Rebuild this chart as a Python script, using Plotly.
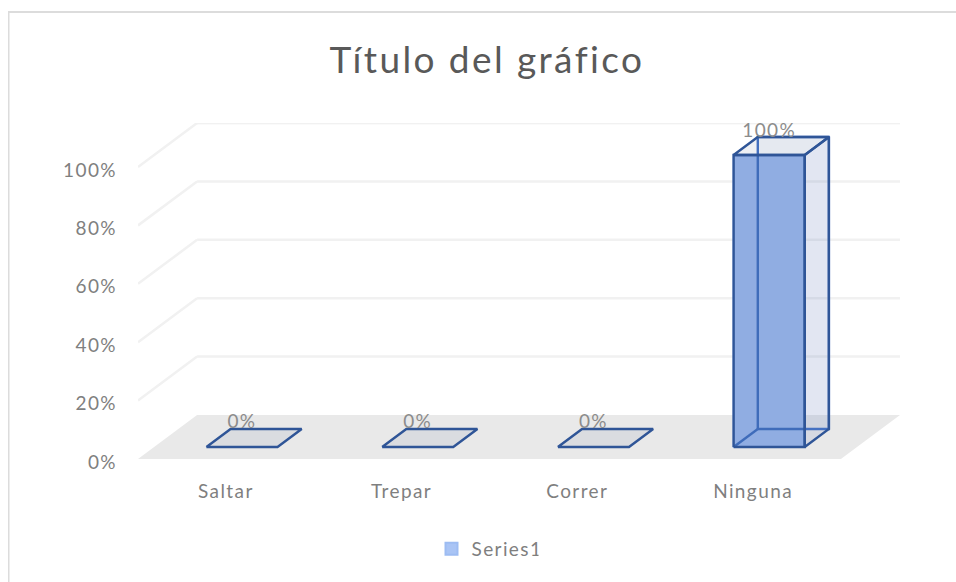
import plotly.graph_objects as go

categories = ["Saltar", "Trepar", "Correr", "Ninguna"]
values = [0, 0, 0, 100]
series_name = "Series1"
y_ticks = [0, 20, 40, 60, 80, 100]
title = "Título del gráfico"

FONT = "Lato, 'Open Sans', sans-serif"
TXT = "#7f7f7f"
EDGE = "#2f5597"
HIDDEN = "#4472c4"
DX = 59 / 175.5      # oblique shift in category units for full floor depth
DY = 44 / 2.92       # oblique shift in value units for full floor depth
NEAR, FAR = 12 / 44, 30 / 44
W = 71 / 175.5
xs = list(range(len(categories)))
CSS = """
var s=document.createElement('style');
s.textContent='html{overflow:hidden}body{overflow:visible;width:964px}.gtitle{letter-spacing:2.4px}.xtick text,.ytick text,.legendtext,.textpoint text{letter-spacing:1.4px}';
document.head.appendChild(s);
"""


def proj(x, y, d):
    return x + d * DX, y + d * DY


def poly(pts, fill, line=None, width=2.4, closed=True, front=True):
    p = [proj(*q) for q in pts]
    if closed:
        p.append(p[0])
    return go.Scatter(
        x=[a for a, _ in p], y=[b for _, b in p], mode="lines",
        fill="toself" if fill else None, fillcolor=fill,
        line=dict(color=line or "rgba(0,0,0,0)", width=width if line else 0),
        showlegend=False, hoverinfo="skip",
        xaxis="x2" if front else "x", yaxis="y2" if front else "y",
    )


fig = go.Figure()
L, R = -0.5, len(categories) - 0.5

# floor and walls, behind everything
fig.add_trace(poly([(L, 0, 0), (R, 0, 0), (R, 0, 1), (L, 0, 1)], "#e9e9e9", front=False))
for t in y_ticks[1:]:
    fig.add_trace(poly([(L, t, 0), (L, t, 1)], None, "#f1f1f1", 2.5, closed=False, front=False))
    fig.add_trace(poly([(L, t, 1), (R, t, 1)], None, "#f1f1f1", 2.5, closed=False, front=False))
fig.add_trace(poly([(L, 100, 1), (R, 100, 1)], None, "#f1f1f1", 2.5, closed=False, front=False))

for i, v in zip(xs, values):
    if v > 0:
        a, b = i - W / 2, i + W / 2
        fig.add_trace(poly([(a, 0, FAR), (b, 0, FAR), (b, v, FAR), (a, v, FAR)],
                           "rgba(80,110,180,0.05)", front=False))

# real bar: legend swatch and the lit front face
fig.add_trace(go.Bar(
    x=[proj(i, 0, NEAR)[0] for i in xs], y=values,
    base=[proj(0, 0, NEAR)[1]] * len(xs), width=W,
    name=series_name, marker=dict(color="#a9c4f5", line=dict(color="#9dbcf2", width=2)),
    hoverinfo="skip", showlegend=True, xaxis="x2", yaxis="y2",
))

# 3D box faces
for i, v in zip(xs, values):
    a, b = i - W / 2, i + W / 2
    if v > 0:
        fig.add_trace(poly([(a, 0, FAR), (b, 0, FAR), (b, v, FAR), (a, v, FAR)], None, HIDDEN))
        fig.add_trace(poly([(a, 0, NEAR), (a, 0, FAR)], None, HIDDEN, closed=False))
        fig.add_trace(poly([(b, 0, NEAR), (b, 0, FAR), (b, v, FAR), (b, v, NEAR)], "rgba(80,110,180,0.12)", None))
        fig.add_trace(poly([(a, 0, NEAR), (b, 0, NEAR), (b, v, NEAR), (a, v, NEAR)], "rgba(47,85,151,0.20)", EDGE))
        fig.add_trace(poly([(b, 0, NEAR), (b, 0, FAR), (b, v, FAR), (b, v, NEAR)], None, EDGE))
    fig.add_trace(poly([(a, v, NEAR), (b, v, NEAR), (b, v, FAR), (a, v, FAR)], "rgba(68,84,130,0.09)", EDGE))

# data labels
fig.add_trace(go.Scatter(
    x=[proj(i, 0, NEAR)[0] for i in xs],
    y=[proj(0, v, FAR)[1] + (5 if v else 6) / 2.92 for v in values],
    mode="text", text=[f"{v}%" for v in values],
    textposition="middle center",
    textfont=dict(family=FONT, size=19, color="#8c8c8c"),
    showlegend=False, hoverinfo="skip", cliponaxis=False, xaxis="x2", yaxis="y2",
))

fig.update_layout(
    width=956, height=574, autosize=False,
    margin=dict(l=130, r=64, t=115, b=123),
    paper_bgcolor="white", plot_bgcolor="white",
    showlegend=True,
    title=dict(text=title, x=(487 - 138) / 762, xanchor="center", xref="paper",
               y=1 - 52 / 574, yanchor="middle", yref="container",
               font=dict(family=FONT, size=37, color="#595959")),
    xaxis=dict(range=[L, R + DX], tickvals=xs, ticktext=categories,
               showgrid=False, zeroline=False, showline=False, ticks="",
               ticklabelstandoff=19, tickfont=dict(family=FONT, size=19, color=TXT)),
    yaxis=dict(range=[0, 100 + DY], tickvals=y_ticks, ticktext=[f"{t}%" for t in y_ticks],
               showgrid=False, zeroline=False, showline=False, ticks="",
               ticklabelstandoff=20, ticklabelshift=3, tickfont=dict(family=FONT, size=19, color=TXT)),
    xaxis2=dict(range=[L, R + DX], overlaying="x", visible=False),
    yaxis2=dict(range=[0, 100 + DY], overlaying="y", visible=False),
    legend=dict(x=(485 - 138) / 762, y=(459 - 549) / 336, xanchor="center", yanchor="middle",
                font=dict(family=FONT, size=19, color=TXT), bgcolor="rgba(0,0,0,0)"),
    shapes=[dict(type="line", xref="paper", yref="paper", layer="below",
                 x0=(8.5 - 138) / 762, x1=(8.5 - 138) / 762, y0=(459 - 582) / 336, y1=(459 - 12) / 336,
                 line=dict(color="#dcdcdc", width=2)),
            dict(type="line", xref="paper", yref="paper", layer="below",
                 x0=(8 - 138) / 762, x1=(964 - 138) / 762, y0=(459 - 12) / 336, y1=(459 - 12) / 336,
                 line=dict(color="#dcdcdc", width=2))],
)
fig.write_html("out.html", post_script=CSS)
